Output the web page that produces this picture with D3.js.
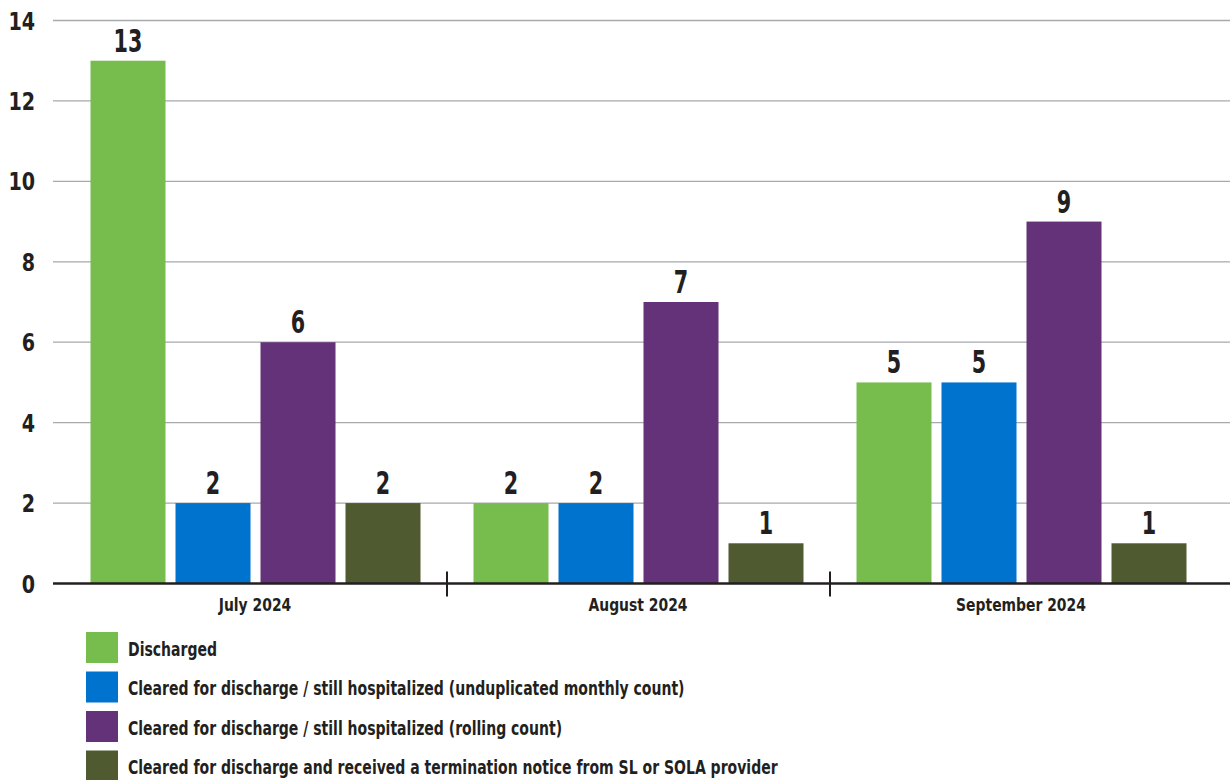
<!DOCTYPE html>
<html>
<head>
  <meta charset="utf-8">
  <title>Discharge status by month</title>
  <script src="https://d3js.org/d3.v7.min.js"></script>
  <style>
    body { margin: 0; background: white; }
    text { font-family: "DejaVu Sans Condensed", "DejaVu Sans", sans-serif; font-weight: bold; fill: #231f20; }
  </style>
</head>
<body>
  <div id="chart"></div>
  <script>
    var months = ["July 2024", "August 2024", "September 2024"];
    var seriesNames = [
      "Discharged",
      "Cleared for discharge / still hospitalized (unduplicated monthly count)",
      "Cleared for discharge / still hospitalized (rolling count)",
      "Cleared for discharge and received a termination notice from SL or SOLA provider"
    ];
    var discharged = [13, 2, 5];
    var unduplicated = [2, 2, 5];
    var rolling = [6, 7, 9];
    var terminated = [2, 1, 1];
    var yTicks = [0, 2, 4, 6, 8, 10, 12, 14];
    var colors = ["#77bd4e", "#0073cf", "#633278", "#505a31"];

    var width = 1230, height = 780;
    var values = [discharged, unduplicated, rolling, terminated];

    // narrow the condensed font a bit more, like the original typeface
    function place(sel, fx, fy, sx) {
      sel.attr("transform", (d, i) => "translate(" + fx(d, i) + "," + fy(d, i) + ") scale(" + sx + ",1)");
    }

    var svg = d3.select("#chart").append("svg")
      .attr("width", width)
      .attr("height", height);

    var x = d3.scaleBand().domain(months).range([63.5, 1212.5]).padding(0);
    var xInner = d3.scaleBand().domain(d3.range(4)).range([27, 357]).paddingInner(10 / 85);
    var y = d3.scaleLinear().domain([0, 14]).range([583.5, 20.5]);

    // gridlines
    svg.append("g").selectAll("line")
      .data(yTicks.slice(1))
      .join("line")
      .attr("x1", 53).attr("x2", 1230)
      .attr("y1", d => y(d)).attr("y2", d => y(d))
      .attr("stroke", "#a7a9ac").attr("stroke-width", 1.3);

    // y labels
    svg.append("g").selectAll("text")
      .data(yTicks)
      .join("text")
      .attr("text-anchor", "end")
      .style("font-size", "25px")
      .text(d => d)
      .call(place, () => 35, d => y(d) + 9, 0.85);

    // bars
    var groups = svg.append("g").selectAll("g")
      .data(months)
      .join("g")
      .attr("transform", d => "translate(" + x(d) + ",0)");

    groups.selectAll("rect")
      .data((m, mi) => values.map((s, si) => ({ si: si, v: s[mi] })))
      .join("rect")
      .attr("x", d => xInner(d.si))
      .attr("width", xInner.bandwidth())
      .attr("y", d => y(d.v))
      .attr("height", d => y(0) - y(d.v))
      .attr("fill", d => colors[d.si]);

    groups.selectAll("text.val")
      .data((m, mi) => values.map((s, si) => ({ si: si, v: s[mi] })))
      .join("text")
      .attr("class", "val")
      .attr("text-anchor", "middle")
      .style("font-size", "32px")
      .text(d => d.v)
      .call(place, d => xInner(d.si) + xInner.bandwidth() / 2, d => y(d.v) - 9, 0.72);

    // x axis
    svg.append("line")
      .attr("x1", 53).attr("x2", 1230)
      .attr("y1", y(0)).attr("y2", y(0))
      .attr("stroke", "#231f20").attr("stroke-width", 2.5);

    svg.append("g").selectAll("line")
      .data(months.slice(1))
      .join("line")
      .attr("x1", d => x(d) + 0.5).attr("x2", d => x(d) + 0.5)
      .attr("y1", y(0) - 12).attr("y2", y(0) + 13)
      .attr("stroke", "#231f20").attr("stroke-width", 2);

    svg.append("g").selectAll("text")
      .data(months)
      .join("text")
      .attr("text-anchor", "middle")
      .style("font-size", "18px")
      .text(d => d)
      .call(place, d => x(d) + x.bandwidth() / 2, () => 611, 0.86);

    // legend
    var legend = svg.append("g").selectAll("g")
      .data(seriesNames)
      .join("g")
      .attr("transform", (d, i) => "translate(86," + (632 + i * 39.5) + ")");

    legend.append("rect")
      .attr("width", 32).attr("height", 31)
      .attr("fill", (d, i) => colors[i]);

    legend.append("text")
      .style("font-size", "20px")
      .text(d => d)
      .call(place, () => 42, () => 23.5, 0.78);
  </script>
</body>
</html>
